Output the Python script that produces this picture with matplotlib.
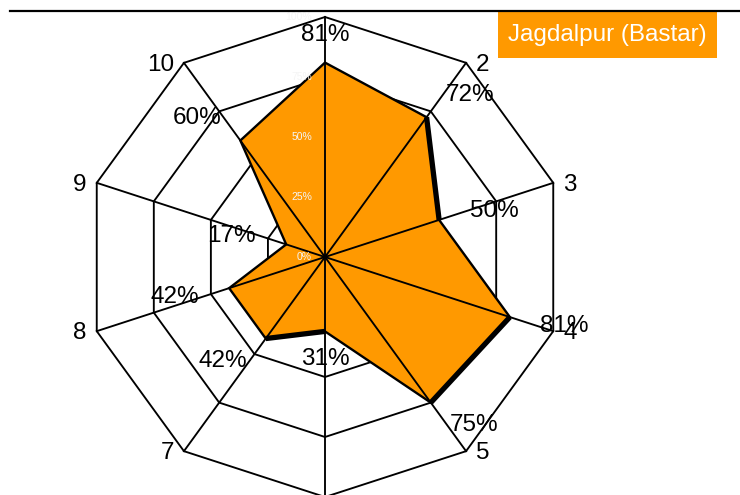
import numpy as np
import matplotlib
matplotlib.use('Agg')
import matplotlib.pyplot as plt
from matplotlib.patches import Rectangle, Polygon
from matplotlib.lines import Line2D

plt.rcParams['font.family'] = ['Liberation Sans', 'DejaVu Sans']

# data
axis_labels = ['1', '2', '3', '4', '5', '6', '7', '8', '9', '10']
values = [81, 72, 50, 81, 75, 31, 42, 42, 17, 60]
ring_levels = [25, 50, 75, 100]
tick_levels = [0, 25, 50, 75, 100]
title = 'Jagdalpur (Bastar)'

orange = '#ff9900'
W, H = 740, 495
cx, cy, R = 325, 257, 240   # centre and outer radius in pixels

fig = plt.figure(figsize=(W / 100, H / 100), dpi=100)
ax = fig.add_axes([0, 0, 1, 1])
ax.set_xlim(-cx / R, (W - cx) / R)
ax.set_ylim(-(H - cy) / R, cy / R)
ax.set_aspect('equal')
ax.axis('off')

n = len(values)
ang = np.deg2rad(np.arange(n) * 360 / n)
sx, sy = np.sin(ang), np.cos(ang)

# rings
for lev in ring_levels:
    r = lev / 100
    xs = np.append(r * sx, r * sx[0])
    ys = np.append(r * sy, r * sy[0])
    ax.plot(xs, ys, color='black', lw=1.35, zorder=1)

# data polygon
r = np.array(values) / 100
px, py = r * sx, r * sy
ax.add_patch(Polygon(np.column_stack([px, py]), closed=True, fc=orange,
                     ec='black', lw=1.7, zorder=2))
# heavier edges
for i in (1, 3, 5):
    j = (i + 1) % n
    ax.plot([px[i], px[j]], [py[i], py[j]], color='black', lw=3.8,
            solid_capstyle='butt', zorder=3)

# spokes
for i in range(n):
    ax.plot([0, sx[i]], [0, sy[i]], color='black', lw=1.35, zorder=4)

# radial tick labels
for lev in tick_levels:
    ax.annotate(f'{lev}%', (0, lev / 100), xytext=(-13, 0),
                textcoords='offset pixels', ha='right', va='center',
                fontsize=7.5, color='#f5f5f5', zorder=5)

# axis labels at the outer vertices (top and bottom fall off the canvas)
for i in range(n):
    if abs(sx[i]) < 0.1:
        off, ha, va = (0, 40 * np.sign(sy[i])), 'center', 'center'
    else:
        off = (10 * np.sign(sx[i]), -2)
        ha = 'left' if sx[i] > 0 else 'right'
        va = 'center'
    ax.annotate(axis_labels[i], (sx[i], sy[i]), xytext=off,
                textcoords='offset pixels', ha=ha, va=va, fontsize=17.5,
                zorder=6)

# value labels
for i in range(n):
    if abs(sx[i]) < 0.1:
        ha = 'center'
    else:
        ha = 'left' if sx[i] > 0 else 'right'
    ax.annotate(f'{values[i]}%', (px[i], py[i]),
                xytext=(32 * sx[i], 28 * sy[i]), textcoords='offset pixels',
                ha=ha, va='center', fontsize=17.5, zorder=6)

# top border line
fig.add_artist(Line2D([10 / W, 1], [1 - 10.5 / H, 1 - 10.5 / H],
                      transform=fig.transFigure, color='black', lw=1.6))

# title box
fig.add_artist(Rectangle((498 / W, 1 - 58 / H), 219 / W, 46 / H,
                         transform=fig.transFigure, fc=orange, ec='none'))
fig.text(607 / W, 1 - 35 / H, title, ha='center', va='center',
         color='white', fontsize=17.5)

fig.savefig('out.png', dpi=100)
